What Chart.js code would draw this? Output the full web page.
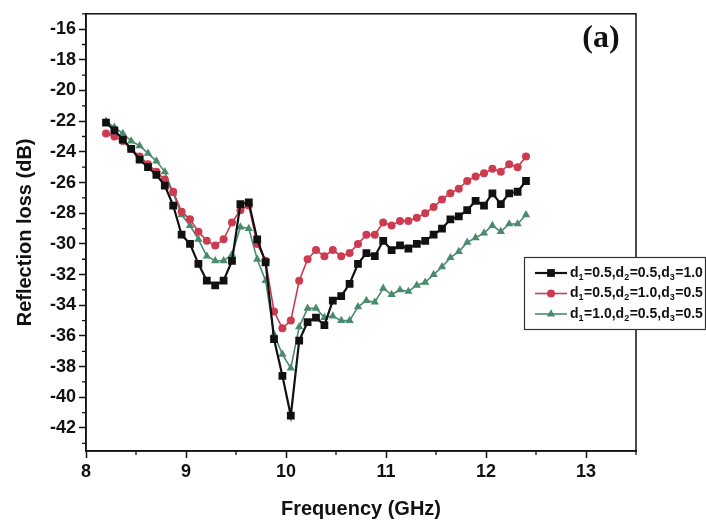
<!DOCTYPE html>
<html>
<head>
<meta charset="utf-8">
<script src="https://cdn.jsdelivr.net/npm/chart.js@4.4.1/dist/chart.umd.min.js"></script>
<style>
  html, body { margin: 0; padding: 0; background: #fff; }
  #wrap { width: 706px; height: 525px; }
</style>
</head>
<body>
<div id="wrap"><canvas id="c" width="706" height="525"></canvas></div>
<script>
// Frequency sweep (GHz), X band, 51 points
const freq = [8.200, 8.284, 8.368, 8.452, 8.536, 8.620, 8.704, 8.788, 8.872, 8.956,
              9.040, 9.124, 9.208, 9.292, 9.376, 9.460, 9.544, 9.628, 9.712, 9.796,
              9.880, 9.964, 10.048, 10.132, 10.216, 10.300, 10.384, 10.468, 10.552, 10.636,
              10.720, 10.804, 10.888, 10.972, 11.056, 11.140, 11.224, 11.308, 11.392, 11.476,
              11.560, 11.644, 11.728, 11.812, 11.896, 11.980, 12.064, 12.148, 12.232, 12.316,
              12.400];

// Reflection loss (dB) for the three layer thickness combinations
const lossA = [-22.1, -22.6, -23.2, -23.8, -24.5, -25.0, -25.5, -26.2, -27.5, -29.4,
               -30.0, -31.3, -32.4, -32.7, -32.4, -31.1, -27.4, -27.3, -29.7, -31.2,
               -36.2, -38.6, -41.2, -36.3, -35.1, -34.8, -35.3, -33.7, -33.4, -32.6,
               -31.3, -30.6, -30.8, -29.8, -30.4, -30.1, -30.3, -30.0, -29.8, -29.4,
               -29.0, -28.4, -28.2, -27.8, -27.2, -27.5, -26.7, -27.4, -26.7, -26.6,
               -25.9];
const lossB = [-22.8, -23.0, -23.3, -23.8, -24.3, -24.8, -25.3, -25.8, -26.6, -27.9,
               -28.4, -29.2, -29.8, -30.1, -29.7, -28.6, -27.8, -27.5, -30.0, -31.1,
               -34.4, -35.5, -35.0, -32.4, -31.0, -30.4, -30.8, -30.4, -30.8, -30.6,
               -30.0, -29.4, -29.4, -28.6, -28.8, -28.5, -28.5, -28.3, -28.0, -27.6,
               -27.1, -26.7, -26.4, -25.9, -25.6, -25.4, -25.1, -25.3, -24.8, -25.0,
               -24.3];
const lossC = [-22.0, -22.4, -22.8, -23.3, -23.6, -24.1, -24.6, -25.3, -26.7, -28.1,
               -28.8, -29.7, -30.8, -31.1, -31.1, -30.7, -28.9, -29.0, -31.0, -32.4,
               -35.9, -37.2, -38.1, -35.4, -34.2, -34.2, -34.8, -34.7, -35.0, -35.0,
               -34.1, -33.7, -33.8, -32.9, -33.3, -33.0, -33.1, -32.7, -32.5, -32.0,
               -31.5, -30.9, -30.5, -29.9, -29.6, -29.3, -28.8, -29.2, -28.7, -28.7,
               -28.1];

// Legend texts; "_n" marks a subscript digit
const seriesLabels = ['d_1=0.5,d_2=0.5,d_3=1.0', 'd_1=0.5,d_2=1.0,d_3=0.5', 'd_1=1.0,d_2=0.5,d_3=0.5'];
const seriesColors = ['#111111', '#cd3b50', '#4a8b6d'];

// Axis ticks
const xTicks = [8, 9, 10, 11, 12, 13];
const xMinor = [8.5, 9.5, 10.5, 11.5, 12.5, 13.5];
const yTicks = [-42, -40, -38, -36, -34, -32, -30, -28, -26, -24, -22, -20, -18, -16];
const yMinor = [-43, -41, -39, -37, -35, -33, -31, -29, -27, -25, -23, -21, -19, -17, -15];

const panelLabel = '(a)';

const SANS = "'Liberation Sans', Arial, Helvetica, sans-serif";
const SERIF = "'Liberation Serif', 'Times New Roman', serif";
const INK = '#111111';

function pts(ys) { return freq.map((f, i) => ({ x: f, y: ys[i] })); }

function drawSubText(ctx, text, x, y, size) {
  let cx = x;
  for (let i = 0; i < text.length; i++) {
    const ch = text[i];
    if (ch === '_') {
      const d = text[++i];
      ctx.font = 'bold ' + Math.round(size * 0.62) + 'px ' + SANS;
      ctx.fillText(d, cx, y + size * 0.3);
      cx += ctx.measureText(d).width + 0.5;
    } else {
      ctx.font = 'bold ' + size + 'px ' + SANS;
      ctx.fillText(ch, cx, y);
      cx += ctx.measureText(ch).width;
    }
  }
}

const decor = {
  id: 'decor',
  afterDraw(chart) {
    const { ctx, chartArea: a, scales: { x, y } } = chart;
    ctx.save();
    // plot frame
    ctx.strokeStyle = INK;
    ctx.lineWidth = 1.5;
    ctx.strokeRect(a.left, a.top, a.right - a.left, a.bottom - a.top);
    // minor ticks
    ctx.lineWidth = 1.3;
    ctx.beginPath();
    yMinor.forEach(v => {
      const py = y.getPixelForValue(v);
      ctx.moveTo(a.left - 4, py); ctx.lineTo(a.left, py);
    });
    xMinor.forEach(v => {
      const px = x.getPixelForValue(v);
      ctx.moveTo(px, a.bottom); ctx.lineTo(px, a.bottom + 4);
    });
    ctx.stroke();

    // panel label
    ctx.fillStyle = INK;
    ctx.font = 'bold 32px ' + SERIF;
    ctx.textAlign = 'center';
    ctx.textBaseline = 'alphabetic';
    ctx.fillText(panelLabel, 601, 47);

    // legend box
    const bx = 524.5, by = 257.5, bw = 181, bh = 72;
    ctx.fillStyle = '#fff';
    ctx.fillRect(bx, by, bw, bh);
    ctx.strokeStyle = '#333';
    ctx.lineWidth = 1.2;
    ctx.strokeRect(bx, by, bw, bh);
    ctx.textAlign = 'left';
    ctx.textBaseline = 'middle';
    chart.data.datasets.forEach((ds, i) => {
      const ry = 273 + i * 20.5;
      ctx.strokeStyle = ds.borderColor;
      ctx.lineWidth = ds.borderWidth;
      ctx.beginPath();
      ctx.moveTo(535, ry); ctx.lineTo(567, ry);
      ctx.stroke();
      ctx.fillStyle = ds.pointBackgroundColor;
      ctx.strokeStyle = ds.pointBorderColor;
      Chart.helpers.drawPoint(ctx, {
        pointStyle: ds.pointStyle, radius: ds.pointRadius, rotation: 0, borderWidth: 0
      }, 551, ry);
      ctx.fillStyle = INK;
      drawSubText(ctx, seriesLabels[i], 570, ry, 14);
    });
    ctx.restore();
  }
};

const mk = (label, data, color, style, radius, lw) => ({
  label, data: pts(data),
  borderColor: color, backgroundColor: color,
  pointBackgroundColor: color, pointBorderColor: color,
  pointStyle: style, pointRadius: radius, pointBorderWidth: 0,
  borderWidth: lw, tension: 0
});

new Chart(document.getElementById('c'), {
  type: 'line',
  data: {
    datasets: [
      mk(seriesLabels[0], lossA, seriesColors[0], 'rect', 5.5, 2.2),
      mk(seriesLabels[1], lossB, seriesColors[1], 'circle', 4, 1.6),
      mk(seriesLabels[2], lossC, seriesColors[2], 'triangle', 4.8, 1.6)
    ]
  },
  options: {
    responsive: false,
    animation: false,
    devicePixelRatio: 1,
    layout: { padding: { top: 10, right: 70, left: 0, bottom: 0 } },
    plugins: { legend: { display: false }, tooltip: { enabled: false } },
    scales: {
      x: {
        type: 'linear', min: 8, max: 13.5,
        afterBuildTicks: s => { s.ticks = xTicks.map(v => ({ value: v })); },
        afterFit: s => { s.height = 74; },
        ticks: { color: INK, padding: 3, maxRotation: 0, font: { family: SANS, size: 18, weight: 'bold' } },
        grid: { drawOnChartArea: false, drawTicks: true, tickLength: 7, tickWidth: 1.5, tickColor: INK },
        border: { display: true, color: INK, width: 1.5 },
        title: { display: true, text: 'Frequency (GHz)', color: INK,
                 font: { family: SANS, size: 20, weight: 'bold' }, padding: { top: 0, bottom: 4 } }
      },
      y: {
        type: 'linear', min: -43.5, max: -15.0,
        afterBuildTicks: s => { s.ticks = yTicks.map(v => ({ value: v })); },
        afterFit: s => { s.width = 86; },
        ticks: { color: INK, padding: 3, font: { family: SANS, size: 18, weight: 'bold' } },
        grid: { drawOnChartArea: false, drawTicks: true, tickLength: 7, tickWidth: 1.5, tickColor: INK },
        border: { display: true, color: INK, width: 1.5 },
        title: { display: true, text: 'Reflection loss (dB)', color: INK,
                 font: { family: SANS, size: 20, weight: 'bold' }, padding: { top: 13, bottom: 0 } }
      }
    }
  },
  plugins: [decor]
});
</script>
</body>
</html>
